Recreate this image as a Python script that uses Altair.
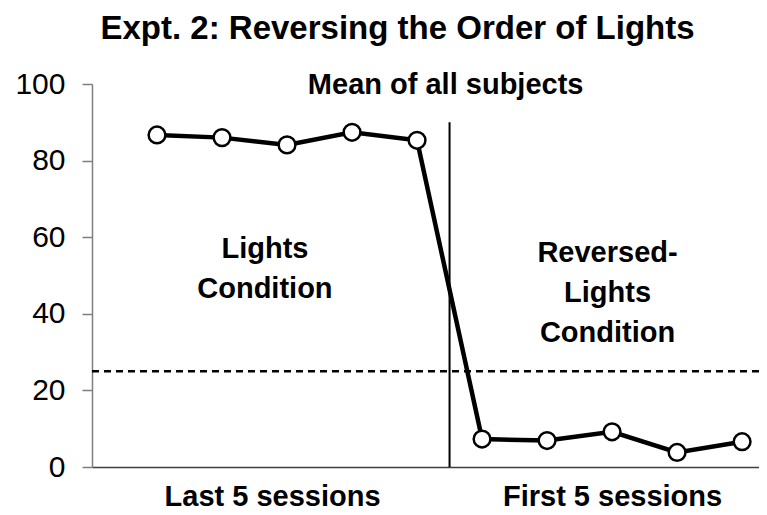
import altair as alt
import pandas as pd

# ---- data ----
session = list(range(10))
percent = [86.7, 86.0, 84.1, 87.4, 85.3, 7.3, 6.9, 9.2, 3.8, 6.6]
chance_level = [25]
divider_x = [4.5]
divider_top = [90]
group_labels = ["Last 5 sessions", "First 5 sessions"]
group_label_pos = [1.77, 7.0]
notes = ["Mean of all subjects", "Lights\nCondition", "Reversed-\nLights\nCondition"]
note_x = [4.44, 1.66, 6.93]
note_y = [99.7, 56.9, 55.9]
y_ticks = [0, 20, 40, 60, 80, 100]
title_text = "Expt. 2: Reversing the Order of Lights"

FONT = "Liberation Sans"
W, H = 667, 383

df = pd.DataFrame({"session": session, "percent": percent})
div_df = pd.DataFrame({"x": divider_x, "y0": [0], "y1": divider_top})
chance_df = pd.DataFrame({"c": chance_level})
notes_df = pd.DataFrame({"x": note_x, "y": note_y, "t": notes})

xscale = alt.Scale(domain=[-1, 9.26], nice=False, zero=False)
yscale = alt.Scale(domain=[0, 100], nice=False)

label_expr = (f"datum.value < {divider_x[0]} ? '{group_labels[0]}' : '{group_labels[1]}'")
xaxis = alt.Axis(values=group_label_pos, labelExpr=label_expr, ticks=False, grid=False,
                 title=None, domainColor="#3f3f3f", domainWidth=1.5, labelFont=FONT,
                 labelFontSize=29, labelFontWeight="bold", labelColor="black",
                 labelPadding=15, labelFlush=False, labelOverlap=False, labelLimit=0)
yaxis = alt.Axis(values=y_ticks, title=None, grid=False, tickSize=10, tickColor="#7f7f7f",
                 tickWidth=1.5, domainColor="#7f7f7f", domainWidth=1.5, labelFont=FONT,
                 labelFontSize=30, labelColor="black", labelPadding=17)

X = lambda f: alt.X(f, scale=xscale, axis=xaxis)
Y = lambda f: alt.Y(f, scale=yscale, axis=yaxis)

divider = alt.Chart(div_df).mark_rule(color="black", strokeWidth=2).encode(
    x=X("x:Q"), y=Y("y0:Q"), y2="y1:Q")

chance = alt.Chart(chance_df).mark_rule(color="black", strokeWidth=2.5, strokeDash=[7, 5]).encode(
    y=Y("c:Q"), x=alt.value(0), x2=alt.value(W))

line = alt.Chart(df).mark_line(color="black", strokeWidth=4.5).encode(
    x=X("session:Q"), y=Y("percent:Q"))

points = alt.Chart(df).mark_point(shape="circle", filled=True, fill="white", stroke="black",
                                  strokeWidth=2.5, size=280, opacity=1).encode(
    x=X("session:Q"), y=Y("percent:Q"))

text = alt.Chart(notes_df).mark_text(font=FONT, fontSize=29, fontWeight="bold", lineBreak="\n",
                                     lineHeight=40, align="center", baseline="middle",
                                     color="black").encode(
    x=X("x:Q"), y=Y("y:Q"), text="t:N")

chart = alt.layer(divider, chance, line, points, text).properties(
    width=W, height=H,
    title=alt.TitleParams(text=title_text, font=FONT, fontSize=33, fontWeight="bold",
                          color="black", anchor="middle", frame="group", dx=-28,
                          baseline="alphabetic", offset=-3),
    autosize=alt.AutoSizeParams(type="none"),
    padding={"left": 84, "top": 76, "right": 0, "bottom": 40},
).configure_view(stroke=None)

chart.save("out.html", embed_options={"renderer": "svg", "actions": False})
